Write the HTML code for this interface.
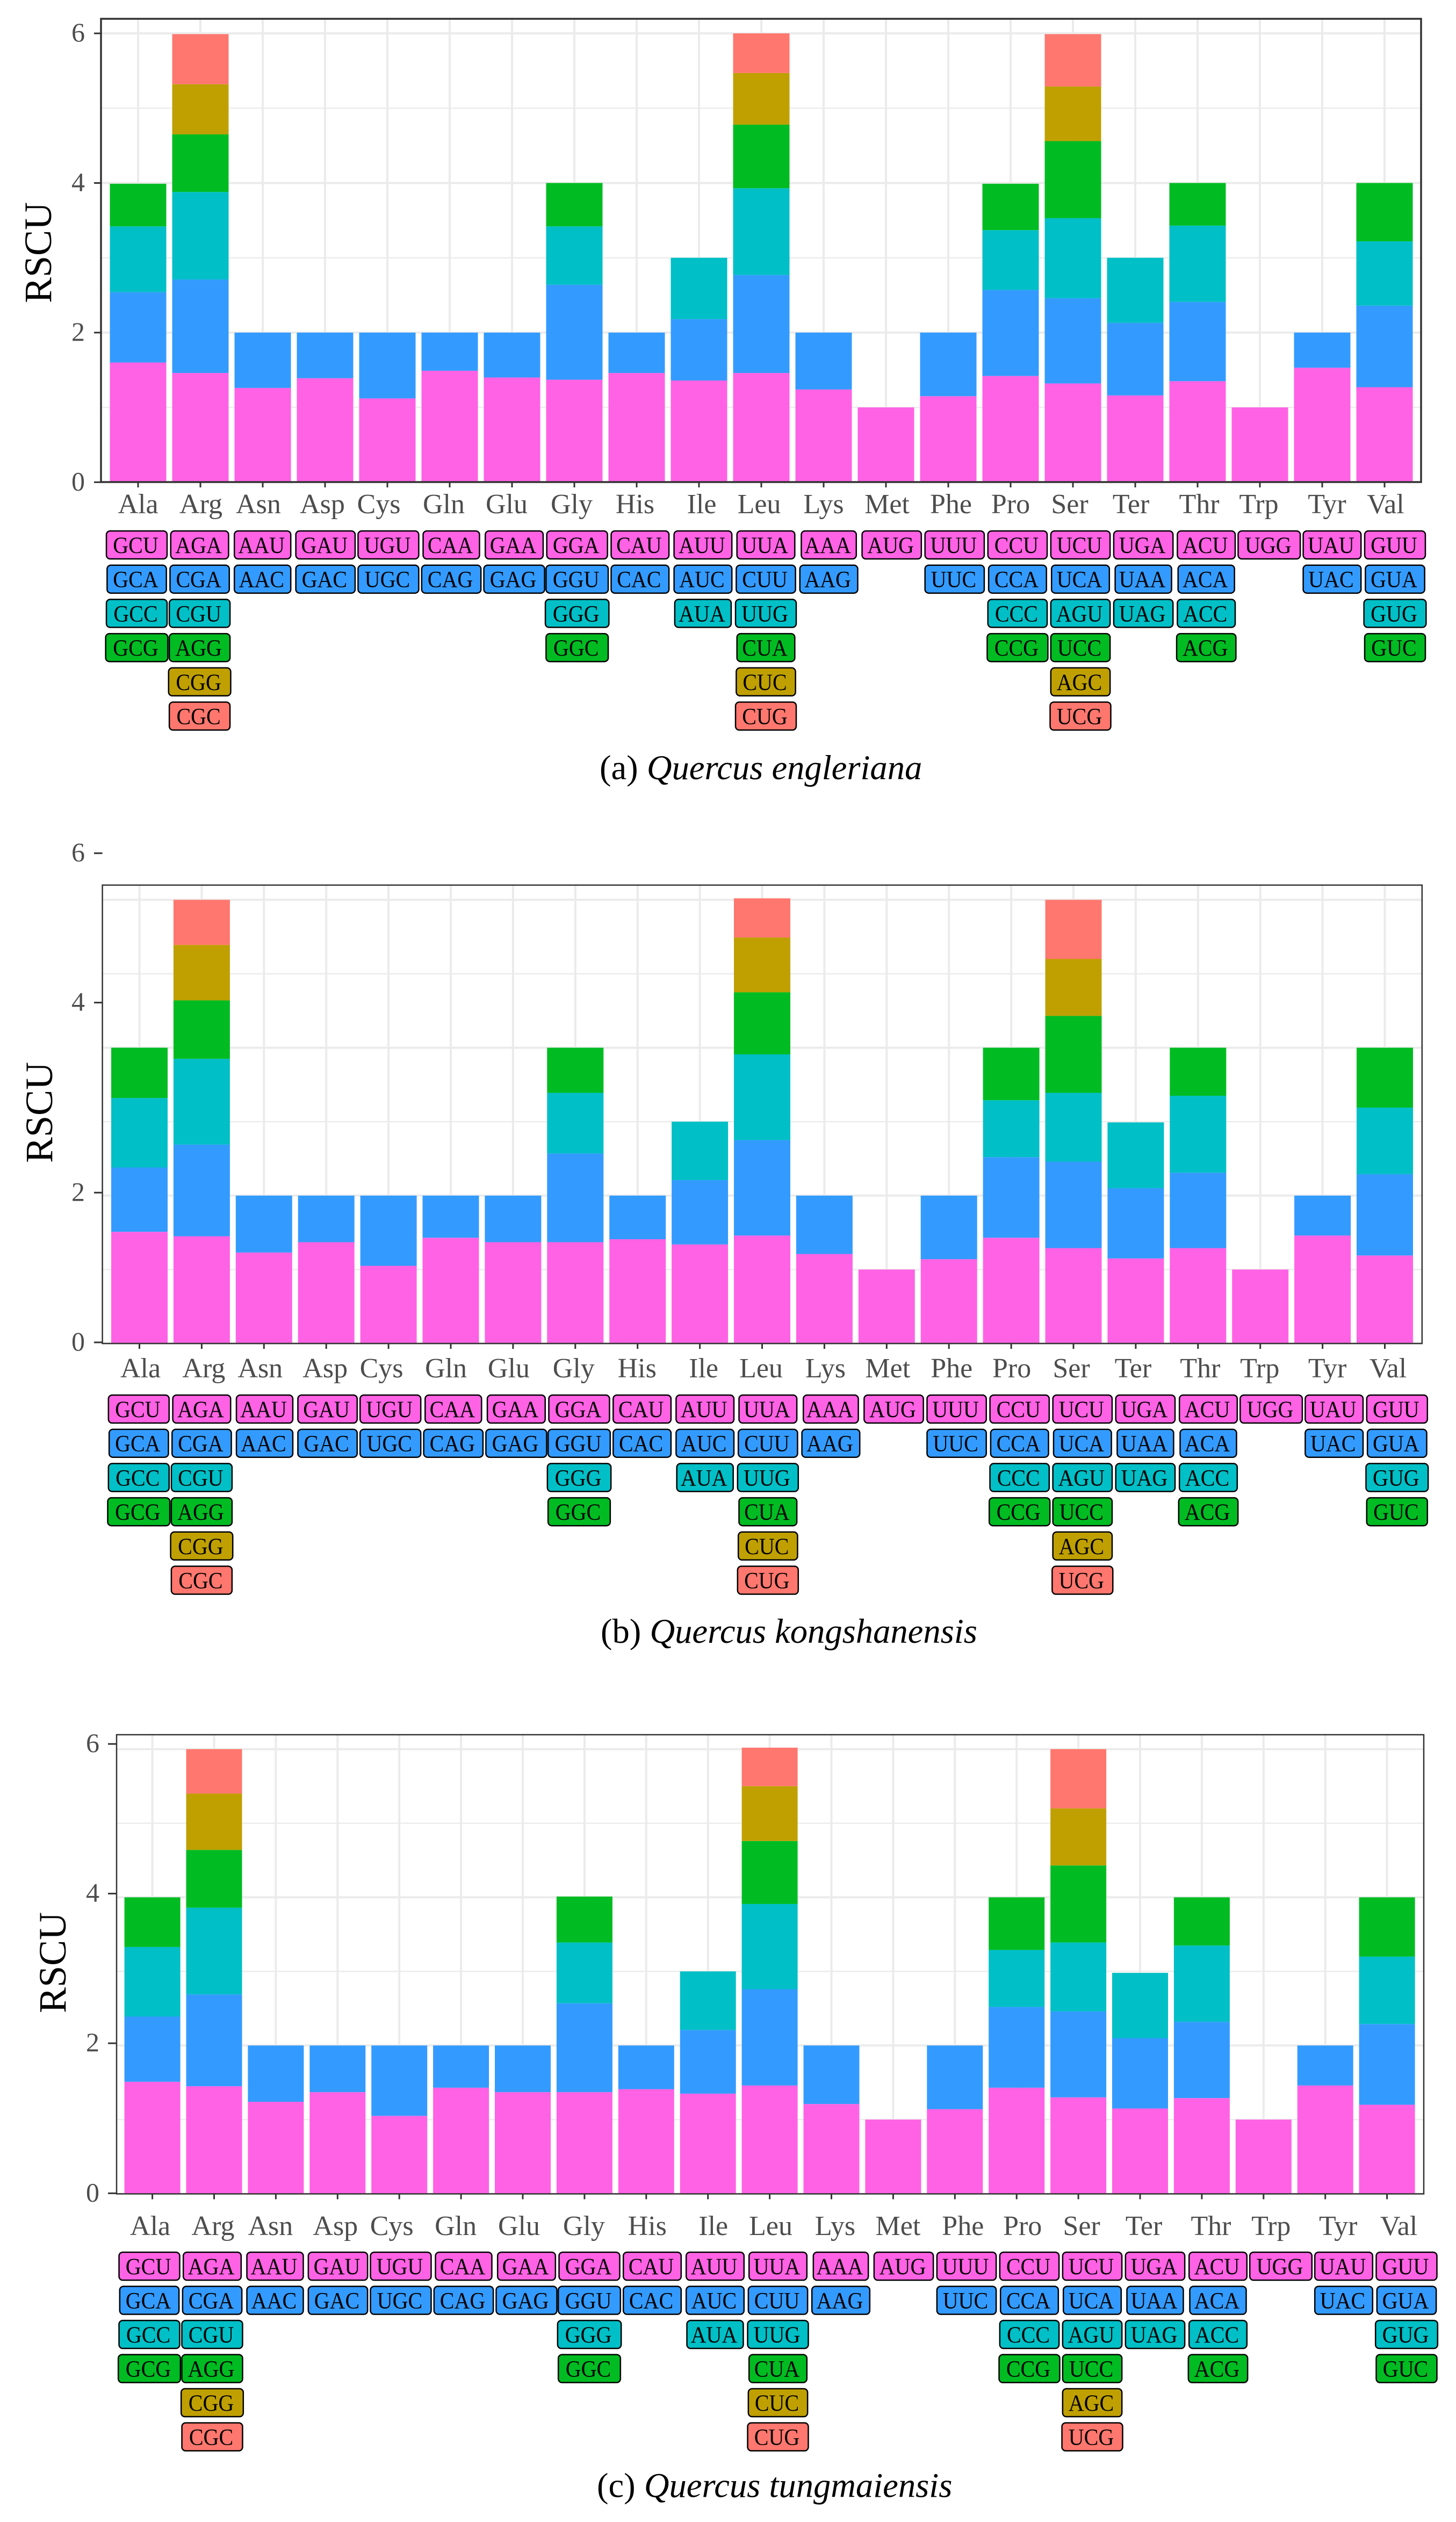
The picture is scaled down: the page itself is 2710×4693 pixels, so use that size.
<!DOCTYPE html>
<html lang="en">
<head>
<meta charset="utf-8">
<title>RSCU of Quercus species</title>
<style>
html,body{margin:0;padding:0;background:#fff;}
svg{display:block;font-family:"Liberation Serif",serif;}
</style>
</head>
<body>
<svg id="figure" xmlns="http://www.w3.org/2000/svg" width="2710" height="4693" viewBox="0 0 2710 4693">
<rect x="0" y="0" width="2710" height="4693" fill="#ffffff"/>
</svg>
<script>
const aminoAcids = ["Ala","Arg","Asn","Asp","Cys","Gln","Glu","Gly","His","Ile","Leu","Lys","Met","Phe","Pro","Ser","Ter","Thr","Trp","Tyr","Val"];
const yTickLabels = [0,2,4,6];
const codons = [
["GCU","GCA","GCC","GCG"],["AGA","CGA","CGU","AGG","CGG","CGC"],["AAU","AAC"],["GAU","GAC"],["UGU","UGC"],["CAA","CAG"],["GAA","GAG"],
["GGA","GGU","GGG","GGC"],["CAU","CAC"],["AUU","AUC","AUA"],["UUA","CUU","UUG","CUA","CUC","CUG"],["AAA","AAG"],["AUG"],["UUU","UUC"],
["CCU","CCA","CCC","CCG"],["UCU","UCA","AGU","UCC","AGC","UCG"],["UGA","UAA","UAG"],["ACU","ACA","ACC","ACG"],["UGG"],["UAU","UAC"],["GUU","GUA","GUG","GUC"]
];
const levelColors = ["#FF62E4","#339BFF","#00BFC6","#00BC22","#BFA000","#FF776E"];

const rscuA1 = [1.60,1.46,1.26,1.39,1.12,1.49,1.40,1.37,1.46,1.36,1.46,1.24,1.00,1.15,1.42,1.32,1.16,1.35,1.00,1.53,1.27];
const rscuA2 = [0.94,1.25,0.74,0.61,0.88,0.51,0.60,1.27,0.54,0.82,1.31,0.76,0,0.85,1.15,1.14,0.97,1.06,0,0.47,1.09];
const rscuA3 = [0.88,1.17,0,0,0,0,0,0.78,0,0.82,1.16,0,0,0,0.80,1.07,0.87,1.02,0,0,0.86];
const rscuA4 = [0.57,0.77,0,0,0,0,0,0.58,0,0,0.85,0,0,0,0.62,1.03,0,0.57,0,0,0.78];
const rscuA5 = [0,0.67,0,0,0,0,0,0,0,0,0.69,0,0,0,0,0.73,0,0,0,0,0];
const rscuA6 = [0,0.67,0,0,0,0,0,0,0,0,0.53,0,0,0,0,0.70,0,0,0,0,0];

const rscuB1 = [1.51,1.45,1.23,1.37,1.05,1.43,1.37,1.37,1.41,1.34,1.46,1.21,1.00,1.14,1.43,1.29,1.15,1.29,1.00,1.46,1.19];
const rscuB2 = [0.87,1.24,0.77,0.63,0.95,0.57,0.63,1.20,0.59,0.87,1.29,0.79,0,0.86,1.09,1.17,0.95,1.02,0,0.54,1.10];
const rscuB3 = [0.94,1.16,0,0,0,0,0,0.82,0,0.79,1.16,0,0,0,0.77,0.93,0.89,1.04,0,0,0.90];
const rscuB4 = [0.68,0.79,0,0,0,0,0,0.61,0,0,0.84,0,0,0,0.71,1.04,0,0.65,0,0,0.81];
const rscuB5 = [0,0.75,0,0,0,0,0,0,0,0,0.74,0,0,0,0,0.77,0,0,0,0,0];
const rscuB6 = [0,0.61,0,0,0,0,0,0,0,0,0.53,0,0,0,0,0.80,0,0,0,0,0];

const rscuC1 = [1.51,1.45,1.24,1.37,1.05,1.43,1.37,1.37,1.41,1.35,1.46,1.21,1.00,1.14,1.43,1.30,1.15,1.29,1.00,1.46,1.20];
const rscuC2 = [0.88,1.24,0.76,0.63,0.95,0.57,0.63,1.20,0.59,0.86,1.30,0.79,0,0.86,1.09,1.16,0.95,1.03,0,0.54,1.09];
const rscuC3 = [0.94,1.17,0,0,0,0,0,0.82,0,0.79,1.15,0,0,0,0.77,0.93,0.88,1.03,0,0,0.91];
const rscuC4 = [0.67,0.78,0,0,0,0,0,0.62,0,0,0.85,0,0,0,0.71,1.04,0,0.65,0,0,0.80];
const rscuC5 = [0,0.76,0,0,0,0,0,0,0,0,0.74,0,0,0,0,0.77,0,0,0,0,0];
const rscuC6 = [0,0.60,0,0,0,0,0,0,0,0,0.52,0,0,0,0,0.80,0,0,0,0,0];

const tickAtA = [0,2,4,6];
const tickAtB = [0.015,2.04,4.61,6.63];
const tickAtC = [0.005,2.03,4.05,6.07];

/* layout only: hand-placed horizontal shift of each amino-acid label, px */
const labelNudgeA = [0,1,-8,-5,-16,-11,-10,-5,-3,5,-4,0,2,5,0,-6,-8,3,-2,9,2];
const labelNudgeB = [2,4,-7,-2,-13,-9,-8,-3,-1,7,-2,2,2,5,1,-4,-5,4,-1,9,6];
const labelNudgeC = [-4,-2,-10,-4,-14,-10,-7,-1,2,10,2,7,9,15,11,6,7,17,14,24,22];

const panels = [
 {id:"a",series:[rscuA1,rscuA2,rscuA3,rscuA4,rscuA5,rscuA6],tickAt:tickAtA,nudge:labelNudgeA,
  L:188,T:35,R:2645,B:897,y0:897.3,unit:139.2,x0:257,step:116,barW:105,tickL:175,frameW:3.5,
  tickEnd:158,labelBase:955,rscuX:95,rscuY:470,rowTop:987,rowStep:63.7,boxX0:254.5,boxStep:117.1,
  capPre:"(a) ",capSp:"Quercus engleriana",capX:1116,capY:1450},
 {id:"b",series:[rscuB1,rscuB2,rscuB3,rscuB4,rscuB5,rscuB6],tickAt:tickAtB,nudge:labelNudgeB,
  L:190.6,T:1647,R:2646.8,B:2500,y0:2500,unit:137.6,x0:259.5,step:115.9,barW:105,tickL:175,frameW:2.5,
  tickEnd:158,labelBase:2563,rscuX:97,rscuY:2070,rowTop:2595,rowStep:63.7,boxX0:258.3,boxStep:117.1,
  capPre:"(b) ",capSp:"Quercus kongshanensis",capX:1118,capY:3057},
 {id:"c",series:[rscuC1,rscuC2,rscuC3,rscuC4,rscuC5,rscuC6],tickAt:tickAtC,nudge:labelNudgeC,
  L:217,T:3228,R:2650,B:4082.4,y0:4082,unit:137.86,x0:283.6,step:114.9,barW:104,tickL:201,frameW:2.5,
  tickEnd:185,labelBase:4159,rscuX:122,rscuY:3652,rowTop:4190,rowStep:63.5,boxX0:278,boxStep:117,
  capPre:"(c) ",capSp:"Quercus tungmaiensis",capX:1111,capY:4646.5}
];

const NS = "http://www.w3.org/2000/svg";
const root = document.getElementById("figure");
const helv = {G:0.778,C:0.722,A:0.667,U:0.722};

function make(parent, tag, props, txt){
  const el = document.createElementNS(NS, tag);
  for (const k in props) el.setAttribute(k, props[k]);
  if (txt !== undefined) el.textContent = txt;
  parent.appendChild(el);
  return el;
}
function boxWidth(codon){
  let s = 0;
  for (const ch of codon) s += helv[ch];
  return s * 48 + 8.3;
}

panels.forEach(function(p){
  const yScale = function(v){ return p.y0 - v * p.unit; };
  const xScale = function(i){ return p.x0 + i * p.step; };
  const boxX = function(i){ return p.boxX0 + i * p.boxStep; };
  const rowY = function(r){ return p.rowTop + r * p.rowStep; };

  const g = make(root, "g", {});
  
  

  // minor horizontal gridlines
  [1,3,5].forEach(function(v){
    const l = make(g, "line", {x1:p.L,x2:p.R,y1:yScale(v),y2:yScale(v),stroke:"#ececec","stroke-width":2.5});
    
    
  });
  // major horizontal gridlines
  [0,2,4,6].forEach(function(v){
    const l = make(g, "line", {x1:p.L,x2:p.R,y1:yScale(v),y2:yScale(v),stroke:"#ebebeb","stroke-width":4});
    
    
  });
  // vertical gridlines
  aminoAcids.forEach(function(a,i){
    const l = make(g, "line", {x1:xScale(i),x2:xScale(i),y1:p.T,y2:p.B,stroke:"#ebebeb","stroke-width":4});
    
    
  });

  // stacked bars
  aminoAcids.forEach(function(a,i){
    let cum = 0;
    p.series.forEach(function(values,level){
      const v = values[i];
      if (!v) return;
      const top = yScale(cum + v), bot = yScale(cum);
      const r = make(g, "rect", {x:xScale(i)-p.barW/2,y:top,width:p.barW,height:bot-top,fill:levelColors[level]});
      
      
      cum += v;
    });
  });

  // panel frame
  const frame = make(g, "rect", {x:p.L,y:p.T,width:p.R-p.L,height:p.B-p.T,fill:"none",stroke:"#333333","stroke-width":p.frameW});
  
  

  // y ticks and labels
  yTickLabels.forEach(function(lab,k){
    const y = yScale(p.tickAt[k]);
    const t = make(g, "line", {x1:p.tickL,x2:p.L,y1:y,y2:y,stroke:"#333333","stroke-width":3});
    
    
    const tx = make(g, "text", {x:p.tickEnd,y:y+15,"text-anchor":"end","font-size":50,fill:"#4d4d4d"}, lab);
    
    
  });

  // y-axis title
  const title = make(g, "text", {transform:"translate("+p.rscuX+","+p.rscuY+") rotate(-90)","text-anchor":"middle","font-size":72,fill:"#000000"}, "RSCU");
  
  

  // x ticks and labels
  aminoAcids.forEach(function(a,i){
    const x = xScale(i);
    const t = make(g, "line", {x1:x,x2:x,y1:p.B,y2:p.B+10,stroke:"#333333","stroke-width":3});
    
    
    const tx = make(g, "text", {x:x+p.nudge[i],y:p.labelBase,"text-anchor":"middle","font-size":52,fill:"#4d4d4d"}, a);
    
    
  });

  // codon key labels
  codons.forEach(function(list,i){
    list.forEach(function(codon,r){
      const w = boxWidth(codon), cx = boxX(i), y = rowY(r);
      const b = make(g, "rect", {x:cx-w/2+1,y:y+1,width:w-2,height:52,rx:7,ry:7,fill:levelColors[r],stroke:"#000000","stroke-width":2.5});
      
      
      const tx = make(g, "text", {transform:"translate("+(cx-2)+","+(y+42)+") scale(1,1.08)","text-anchor":"middle","font-size":40,fill:"#000000"}, codon);
      
      
    });
  });

  // caption
  const cap = make(g, "text", {x:p.capX,y:p.capY,"font-size":64.6,fill:"#000000"});
  
  
  const pre = make(cap, "tspan", {}, p.capPre);
  pre.setAttribute('xml:space', 'preserve');
  make(cap, "tspan", {"font-style":"italic"}, p.capSp);
});
</script>
</body>
</html>
